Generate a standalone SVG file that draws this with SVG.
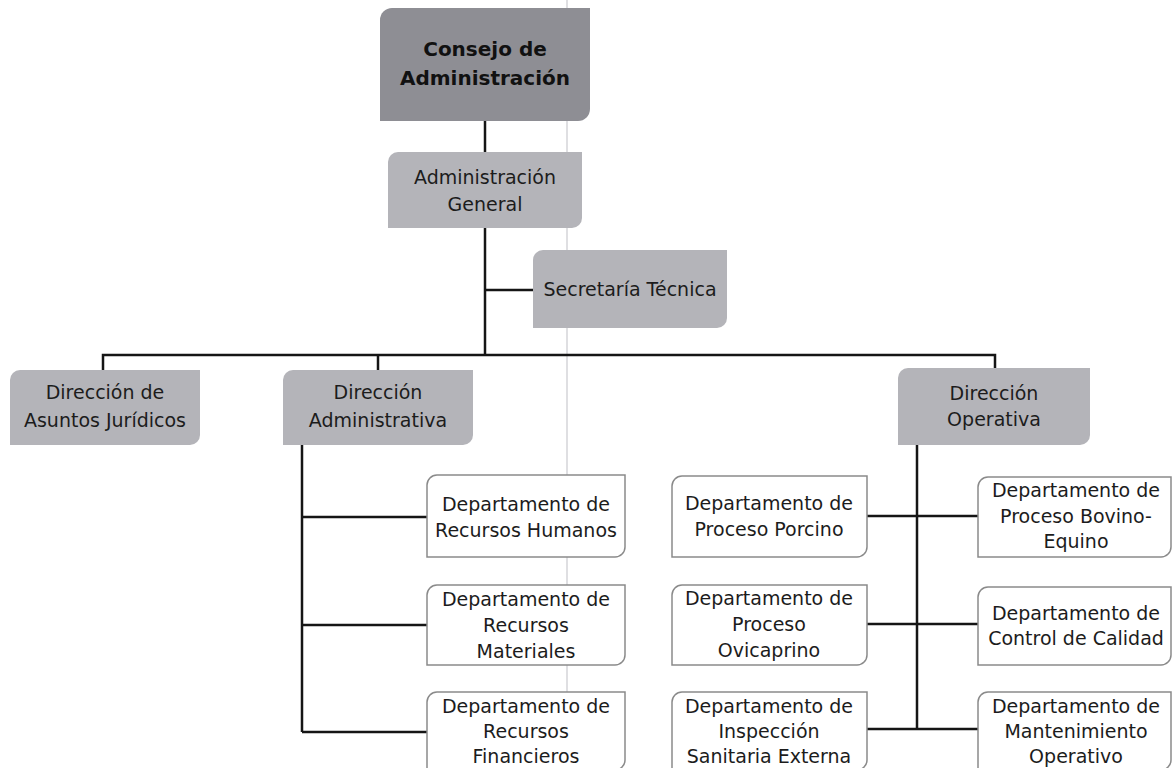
<svg xmlns="http://www.w3.org/2000/svg" width="1172" height="768" viewBox="0 0 1172 768">
<style>
.t{font-family:"DejaVu Sans","Liberation Sans",sans-serif;font-size:19px;fill:#1c1c1c;text-anchor:middle}
.b{font-weight:bold;font-size:20px;fill:#111}
.dark{fill:#8e8e94}
.mid{fill:#b4b4b9}
.dept{fill:#ffffff;stroke:#8a8a8a;stroke-width:1.5}
.c{fill:none;stroke:#151515;stroke-width:2.5}
</style>
<rect x="0" y="0" width="1172" height="768" fill="#ffffff"/>
<line x1="567" y1="0" x2="567" y2="768" stroke="#d4d4d8" stroke-width="1.5"/>
<g id="connectors">
<path class="c" d="M485,121V152"/>
<path class="c" d="M485,228V355"/>
<path class="c" d="M485,290H533"/>
<path class="c" d="M103,370V355H995V368"/>
<path class="c" d="M378,355V370"/>
<path class="c" d="M302,445V732"/>
<path class="c" d="M302,517H427M302,625H427M302,732H427"/>
<path class="c" d="M917,445V730"/>
<path class="c" d="M867,516H978M867,624H978M867,729H978"/>
</g>
<g id="consejo">
<path class="dark" d="M392,8H590V109A12,12 0 0 1 578,121H380V20A12,12 0 0 1 392,8Z"/>
<text class="t b" x="485" y="56">Consejo de</text>
<text class="t b" x="485" y="85">Administración</text>
</g>
<g id="admin-general">
<path class="mid" d="M398,152H582V218A10,10 0 0 1 572,228H388V162A10,10 0 0 1 398,152Z"/>
<text class="t" x="485" y="184">Administración</text>
<text class="t" x="485" y="211">General</text>
</g>
<g id="secretaria">
<path class="mid" d="M543,250H727V318A10,10 0 0 1 717,328H533V260A10,10 0 0 1 543,250Z"/>
<text class="t" x="630" y="296">Secretaría Técnica</text>
</g>
<g id="dir-juridicos">
<path class="mid" d="M20,370H200V435A10,10 0 0 1 190,445H10V380A10,10 0 0 1 20,370Z"/>
<text class="t" x="105" y="399">Dirección de</text>
<text class="t" x="105" y="427">Asuntos Jurídicos</text>
</g>
<g id="dir-administrativa">
<path class="mid" d="M293,370H473V435A10,10 0 0 1 463,445H283V380A10,10 0 0 1 293,370Z"/>
<text class="t" x="378" y="399">Dirección</text>
<text class="t" x="378" y="427">Administrativa</text>
</g>
<g id="dir-operativa">
<path class="mid" d="M908,368H1090V435A10,10 0 0 1 1080,445H898V378A10,10 0 0 1 908,368Z"/>
<text class="t" x="994" y="400">Dirección</text>
<text class="t" x="994" y="426">Operativa</text>
</g>
<g id="dep-rh">
<path class="dept" d="M437,475H625V547A10,10 0 0 1 615,557H427V485A10,10 0 0 1 437,475Z"/>
<text class="t" x="526" y="511">Departamento de</text>
<text class="t" x="526" y="537">Recursos Humanos</text>
</g>
<g id="dep-rm">
<path class="dept" d="M437,585H625V655A10,10 0 0 1 615,665H427V595A10,10 0 0 1 437,585Z"/>
<text class="t" x="526" y="606">Departamento de</text>
<text class="t" x="526" y="632">Recursos</text>
<text class="t" x="526" y="658">Materiales</text>
</g>
<g id="dep-rf">
<path class="dept" d="M437,692H625V760A10,10 0 0 1 615,770H427V702A10,10 0 0 1 437,692Z"/>
<text class="t" x="526" y="713">Departamento de</text>
<text class="t" x="526" y="738">Recursos</text>
<text class="t" x="526" y="763">Financieros</text>
</g>
<g id="dep-porcino">
<path class="dept" d="M682,476H867V547A10,10 0 0 1 857,557H672V486A10,10 0 0 1 682,476Z"/>
<text class="t" x="769" y="510">Departamento de</text>
<text class="t" x="769" y="536">Proceso Porcino</text>
</g>
<g id="dep-ovicaprino">
<path class="dept" d="M682,585H867V655A10,10 0 0 1 857,665H672V595A10,10 0 0 1 682,585Z"/>
<text class="t" x="769" y="605">Departamento de</text>
<text class="t" x="769" y="631">Proceso</text>
<text class="t" x="769" y="657">Ovicaprino</text>
</g>
<g id="dep-inspeccion">
<path class="dept" d="M682,692H867V760A10,10 0 0 1 857,770H672V702A10,10 0 0 1 682,692Z"/>
<text class="t" x="769" y="713">Departamento de</text>
<text class="t" x="769" y="738">Inspección</text>
<text class="t" x="769" y="763">Sanitaria Externa</text>
</g>
<g id="dep-bovino">
<path class="dept" d="M988,477H1171V547A10,10 0 0 1 1161,557H978V487A10,10 0 0 1 988,477Z"/>
<text class="t" x="1076" y="497">Departamento de</text>
<text class="t" x="1076" y="523">Proceso Bovino-</text>
<text class="t" x="1076" y="548">Equino</text>
</g>
<g id="dep-calidad">
<path class="dept" d="M988,587H1171V655A10,10 0 0 1 1161,665H978V597A10,10 0 0 1 988,587Z"/>
<text class="t" x="1076" y="620">Departamento de</text>
<text class="t" x="1076" y="645">Control de Calidad</text>
</g>
<g id="dep-mantenimiento">
<path class="dept" d="M988,692H1171V760A10,10 0 0 1 1161,770H978V702A10,10 0 0 1 988,692Z"/>
<text class="t" x="1076" y="713">Departamento de</text>
<text class="t" x="1076" y="738">Mantenimiento</text>
<text class="t" x="1076" y="763">Operativo</text>
</g>
</svg>
